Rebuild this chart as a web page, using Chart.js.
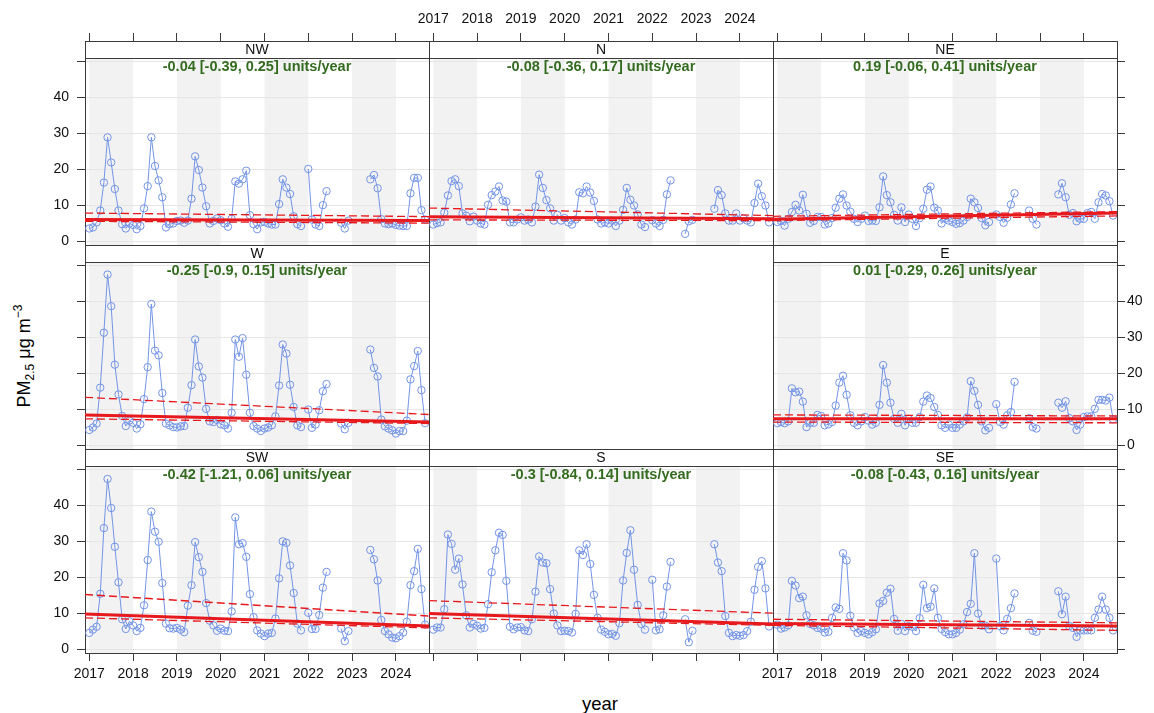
<!DOCTYPE html>
<html>
<head>
<meta charset="utf-8">
<script src="https://cdn.jsdelivr.net/npm/chart.js@4.4.1/dist/chart.umd.min.js"></script>
<style>
    body { margin: 0; background: #fff; font-family: "Liberation Sans", Arial, sans-serif; }
    #wrap { position: relative; width: 1154px; height: 713px; overflow: hidden; background: #fff; }
    #wrap canvas { position: absolute; }
    .ytitle {
        position: absolute; left: 24px; top: 356px;
        transform: translate(-50%, -50%) rotate(-90deg);
        font-size: 18px; white-space: nowrap; color: #000;
    }
    .ytitle sub { font-size: 12px; vertical-align: -4px; }
    .ytitle sup { font-size: 12px; vertical-align: 8px; }
    .xtitle {
        position: absolute; left: 600px; top: 704px;
        transform: translate(-50%, -50%);
        font-size: 18.5px; color: #000;
    }
</style>
</head>
<body>
<div id="wrap">
    <div class="ytitle">PM<sub>2.5</sub> μg m<sup>−3</sup></div>
    <div class="xtitle">year</div>
</div>
<script>
// monthly means, Jan 2017 .. Sep 2024 (null = no data that month)
const firstYear = 2017;
const yearTicks = [2017, 2018, 2019, 2020, 2021, 2022, 2023, 2024];
const valueTicks = [0, 10, 20, 30, 40, 50];
const shadedYears = [2017, 2019, 2021, 2023];

const NW = [3.5, 3.8, 5.2, 8.5, 16.3, 28.9, 21.9, 14.5, 8.5, 4.7, 3.5, 4.9,
    4.5, 3.3, 4.2, 9.1, 15.3, 28.9, 20.9, 16.9, 12.2, 3.8, 4.7, 4.9,
    5.6, 5.7, 5.1, 5.7, 11.8, 23.6, 19.8, 14.9, 9.7, 4.9, 5.6, 6.3,
    5.8, 4.9, 4.0, 6.2, 16.6, 16.0, 17.2, 19.6, 7.2, 4.7, 3.3, 5.2,
    5.3, 4.9, 4.6, 4.6, 10.3, 17.2, 14.9, 13.1, 6.9, 4.7, 4.2, null,
    20.1, 6.0, 4.6, 4.2, 10.0, 13.9, null, null, null, 5.1, 3.5, 5.7,
    null, null, null, null, null, 17.2, 18.4, 14.7, 6.1, 4.9, 4.7, 4.9,
    4.5, 4.3, 4.2, 4.2, 13.3, 17.6, 17.6, 8.6, 6.0];

const N = [4.6, 5.0, 5.2, 7.9, 12.7, 16.7, 17.2, 15.3, 7.7, 7.1, 5.5, 6.8,
    5.7, 4.9, 4.6, 10.1, 12.8, 13.8, 15.2, 11.3, 11.0, 5.2, 5.2, 6.0,
    6.6, 5.7, 6.0, 5.2, 9.6, 18.5, 14.8, 11.4, 9.1, 5.7, 7.3, 5.7,
    6.4, 5.2, 4.6, 6.0, 13.6, 13.3, 15.2, 13.5, 11.2, 6.0, 4.9, 5.2,
    4.9, 5.7, 4.2, 5.7, 8.7, 14.8, 11.5, 9.9, 7.4, 4.6, 3.9, null,
    5.8, 4.9, 4.2, 5.9, 13.0, 16.9, null, null, null, 2.0, 5.5, 5.9,
    null, null, null, null, null, 9.0, 14.2, 12.8, 7.7, 5.7, 5.7, 7.7,
    5.7, 6.3, 5.7, 5.2, 10.6, 16.0, 12.5, 9.9, 5.2];

const NE = [5.3, 5.6, 4.3, 6.2, 8.1, 10.1, 8.5, 12.9, 7.6, 5.1, 5.6, 6.7,
    6.7, 4.6, 4.9, 6.4, 9.3, 11.8, 13.0, 9.9, 8.2, 6.2, 5.3, 6.2,
    7.1, 5.6, 5.7, 5.6, 9.4, 18.0, 12.8, 10.8, 7.3, 5.7, 9.4, 5.3,
    7.4, 6.2, 4.2, 6.4, 9.0, 14.3, 15.2, 9.3, 8.5, 4.9, 6.2, 5.7,
    5.3, 4.8, 5.0, 5.7, 6.7, 11.8, 10.8, 9.2, 6.4, 4.4, 5.3, null,
    7.4, 6.7, 5.1, 6.5, 10.2, 13.3, null, null, null, 8.5, 6.2, 4.6,
    null, null, null, null, null, 13.0, 16.1, 12.2, 7.3, 7.8, 5.5, 6.2,
    6.2, 7.8, 8.1, 6.2, 10.8, 13.1, 12.7, 11.1, 7.1];

const W = [4.2, 4.9, 6.0, 16.0, 31.3, 47.5, 38.7, 22.4, 14.1, 8.1, 5.3, 6.8,
    6.2, 4.6, 5.8, 12.8, 21.7, 39.3, 26.3, 25.0, 14.5, 6.0, 5.5, 5.0,
    4.9, 5.2, 5.3, 10.4, 16.7, 29.4, 21.9, 18.8, 10.1, 6.6, 6.4, 7.0,
    5.8, 5.5, 4.6, 9.0, 29.4, 24.6, 29.8, 19.6, 9.0, 5.3, 4.6, 3.9,
    4.6, 4.9, 5.5, 8.0, 16.6, 28.0, 25.5, 16.8, 10.6, 5.5, 5.0, null,
    9.9, 4.8, 5.7, 9.7, 15.0, 17.0, null, null, null, 6.0, 4.4, 6.2,
    null, null, null, null, null, 26.6, 21.5, 19.1, 7.1, 5.2, 4.6, 4.1,
    3.2, 3.9, 3.9, 6.8, 18.3, 22.0, 26.2, 15.3, 6.1];

const E = [6.1, 6.4, 6.1, 6.6, 15.8, 14.7, 14.9, 12.1, 5.0, 6.2, 6.2, 8.4,
    8.1, 5.5, 5.8, 6.4, 11.0, 17.4, 19.3, 14.0, 8.3, 6.2, 5.5, 6.6,
    7.8, 6.8, 5.7, 6.2, 11.2, 22.3, 17.4, 11.8, 7.3, 6.2, 8.7, 5.5,
    7.3, 6.2, 6.2, 7.8, 12.1, 13.8, 13.1, 10.6, 8.4, 5.5, 4.8, 5.7,
    4.8, 4.8, 5.7, 6.6, 7.7, 17.8, 15.1, 11.2, 6.6, 4.1, 4.8, null,
    11.4, 6.4, 5.7, 8.3, 9.2, 17.6, null, null, null, 7.5, 5.0, 4.6,
    null, null, null, null, null, 11.8, 10.4, 12.2, 7.5, 6.6, 4.2, 5.7,
    7.8, 8.0, 8.0, 10.1, 12.6, 12.6, 12.4, 13.2, 7.2];

const SW = [4.5, 5.4, 6.2, 15.4, 33.7, 47.4, 39.3, 28.5, 18.6, 8.3, 5.6, 7.7,
    6.6, 5.0, 5.9, 12.2, 24.8, 38.3, 32.7, 29.9, 18.4, 7.1, 5.8, 5.7,
    5.9, 5.4, 4.7, 12.1, 17.8, 29.8, 25.6, 21.5, 12.8, 7.9, 6.6, 5.1,
    5.7, 5.1, 5.0, 10.5, 36.7, 29.2, 29.5, 25.7, 15.3, 8.9, 5.2, 4.3,
    3.6, 4.3, 4.5, 8.5, 19.7, 30.0, 29.6, 23.3, 15.6, 7.1, 5.2, null,
    10.1, 5.6, 5.6, 9.5, 17.1, 21.5, null, null, null, 5.7, 2.2, 5.0,
    null, null, null, null, null, 27.6, 25.0, 19.1, 8.1, 5.0, 4.1, 3.2,
    3.0, 3.6, 4.6, 7.6, 17.8, 21.7, 27.9, 16.7, 6.8];

const S = [5.4, 6.0, 6.0, 11.1, 31.9, 29.3, 22.1, 25.2, 18.0, 9.4, 6.0, 7.0,
    6.5, 5.7, 5.9, 12.5, 21.4, 27.5, 32.4, 31.8, 19.0, 6.2, 5.5, 6.0,
    6.1, 5.2, 5.0, 8.3, 16.0, 25.8, 24.1, 23.9, 16.7, 9.9, 6.6, 5.0,
    5.1, 5.0, 4.6, 9.8, 27.5, 26.2, 29.2, 23.7, 15.1, 8.7, 5.4, 4.8,
    4.1, 4.2, 3.7, 7.2, 19.1, 26.8, 33.1, 22.1, 12.3, 7.0, 5.4, null,
    19.3, 5.2, 5.5, 9.4, 17.4, 24.3, null, null, null, 8.3, 1.9, 5.1,
    null, null, null, null, null, 29.2, 24.1, 21.7, 9.2, 4.5, 3.6, 3.9,
    3.7, 3.9, 5.0, 7.6, 16.5, 22.9, 24.5, 16.9, 6.3];

const SE = [6.8, 5.7, 6.0, 6.6, 19.0, 17.7, 14.2, 14.6, 9.4, 7.0, 6.6, 5.9,
    5.7, 4.6, 4.8, 8.7, 11.6, 11.2, 26.7, 24.7, 9.3, 6.0, 4.5, 5.0,
    4.5, 4.1, 4.7, 5.5, 12.7, 13.4, 15.7, 16.8, 8.4, 5.1, 7.0, 5.0,
    6.4, 6.2, 5.0, 8.6, 17.9, 11.4, 11.8, 16.9, 8.7, 5.6, 4.7, 4.1,
    4.1, 4.5, 5.4, 6.9, 10.3, 12.6, 26.7, 9.9, 6.5, 6.5, 5.5, null,
    25.2, 6.4, 5.2, 8.4, 11.4, 15.5, null, null, null, 7.3, 5.1, 4.8,
    null, null, null, null, null, 16.1, 9.7, 14.6, 6.4, 5.9, 3.4, 5.2,
    5.2, 5.2, 5.2, 8.7, 11.0, 14.6, 11.0, 8.7, 5.2];

// Theil-Sen line and its confidence limits at the left and right panel edges: [fit, lower, upper]
const trendNW = [[6.0, 5.7], [5.5, 5.0], [7.8, 6.8]];
const trendN = [[6.8, 6.2], [5.9, 5.7], [9.2, 7.1]];
const trendNE = [[6.1, 7.8], [5.7, 7.0], [6.9, 8.2]];
const trendW = [[8.4, 6.4], [7.3, 6.0], [13.3, 8.5]];
const trendE = [[7.3, 7.3], [6.4, 6.2], [8.4, 8.1]];
const trendSW = [[9.8, 6.4], [8.7, 5.9], [15.2, 9.2]];
const trendS = [[9.9, 7.0], [8.7, 6.6], [13.5, 10.0]];
const trendSE = [[7.1, 6.4], [6.6, 5.2], [8.3, 7.3]];

const slopeNW = "-0.04 [-0.39, 0.25] units/year";
const slopeN = "-0.08 [-0.36, 0.17] units/year";
const slopeNE = "0.19 [-0.06, 0.41] units/year";
const slopeW = "-0.25 [-0.9, 0.15] units/year";
const slopeE = "0.01 [-0.29, 0.26] units/year";
const slopeSW = "-0.42 [-1.21, 0.06] units/year";
const slopeS = "-0.3 [-0.84, 0.14] units/year";
const slopeSE = "-0.08 [-0.43, 0.16] units/year";

// ---- layout ----
const X_MIN = 2016.902, X_MAX = 2024.756;
const Y_MIN = -1.1, Y_MAX = 51.0;
const COL_X = [85, 429, 773], PANEL_W = 344;
const ROW_Y = [41, 245, 449], STRIP_H = 17, PANEL_H = 187;
const M = { left: 60, right: 45, top: 45, bottom: 60 };
const Y_TOP = Y_MAX + STRIP_H * (Y_MAX - Y_MIN) / PANEL_H;

const AXIS = "#3a3a3a", GRID = "#e6e6e6", BAND = "#f2f2f2";
const PT_COL = "#7394e6", TREND_COL = "#e8191c", SLOPE_COL = "#336b1f";
const FONT = '"Liberation Sans", Arial, sans-serif';

// left/right: y axes on the outer columns; top/bottom: x axes on outer rows
const panels = [
    { name: "NW", values: NW, trend: trendNW, slope: slopeNW, row: 0, col: 0, left: "labels", top: "ticks" },
    { name: "N", values: N, trend: trendN, slope: slopeN, row: 0, col: 1, top: "labels" },
    { name: "NE", values: NE, trend: trendNE, slope: slopeNE, row: 0, col: 2, top: "ticks", right: "ticks" },
    { name: "W", values: W, trend: trendW, slope: slopeW, row: 1, col: 0, left: "ticks" },
    { name: "E", values: E, trend: trendE, slope: slopeE, row: 1, col: 2, right: "labels" },
    { name: "SW", values: SW, trend: trendSW, slope: slopeSW, row: 2, col: 0, left: "labels", bottom: "labels" },
    { name: "S", values: S, trend: trendS, slope: slopeS, row: 2, col: 1, bottom: "ticks" },
    { name: "SE", values: SE, trend: trendSE, slope: slopeSE, row: 2, col: 2, bottom: "labels", right: "ticks" }
];

function xAxis(pos, mode) {
    return {
        type: "linear", position: pos, min: X_MIN, max: X_MAX,
        afterBuildTicks: s => { s.ticks = yearTicks.map(v => ({ value: v })); },
        afterFit: s => { s.height = pos === "top" ? M.top : M.bottom; },
        grid: { drawOnChartArea: false, drawTicks: !!mode, tickLength: 8, tickColor: AXIS, tickWidth: 1 },
        border: { display: true, color: AXIS, width: 1 },
        ticks: {
            display: mode === "labels", autoSkip: false, maxRotation: 0, padding: 5,
            color: "#111", font: { family: FONT, size: 14 }, callback: v => String(v)
        }
    };
}

function yAxis(pos, mode, drawGrid) {
    return {
        type: "linear", position: pos, min: Y_MIN, max: Y_TOP,
        afterBuildTicks: s => { s.ticks = valueTicks.map(v => ({ value: v })); },
        afterFit: s => { s.width = pos === "left" ? M.left : M.right; },
        grid: { drawOnChartArea: drawGrid, color: GRID, drawTicks: !!mode, tickLength: 8, tickColor: AXIS, tickWidth: 1 },
        border: { display: true, color: AXIS, width: 1 },
        ticks: {
            display: mode === "labels", padding: pos === "left" ? 8 : 2,
            color: "#111", font: { family: FONT, size: 14 },
            callback: v => (v === 50 ? "" : String(v))
        }
    };
}

// year shading, strip with the direction name, slope estimate
const panelDecor = {
    id: "panelDecor",
    beforeDraw(chart, args, opts) {
        const { ctx, chartArea: a, scales: { x } } = chart;
        const top = a.top + STRIP_H;
        ctx.save();
        ctx.fillStyle = BAND;
        for (const yr of shadedYears) {
            const x0 = Math.max(x.getPixelForValue(yr), a.left);
            const x1 = Math.min(x.getPixelForValue(yr + 1), a.right);
            if (x1 > x0) ctx.fillRect(x0, top, x1 - x0, a.bottom - top);
        }
        ctx.restore();
    },
    afterDraw(chart, args, opts) {
        const { ctx, chartArea: a } = chart;
        const sy = Math.round(a.top + STRIP_H) + 0.5;
        const cx = (a.left + a.right) / 2;
        ctx.save();
        ctx.strokeStyle = AXIS;
        ctx.lineWidth = 1;
        ctx.beginPath();
        ctx.moveTo(a.left, sy);
        ctx.lineTo(a.right, sy);
        ctx.stroke();
        ctx.textAlign = "center";
        ctx.textBaseline = "middle";
        ctx.fillStyle = "#111";
        ctx.font = "14px " + FONT;
        ctx.fillText(opts.name, cx, a.top + STRIP_H / 2 + 0.5);
        ctx.fillStyle = SLOPE_COL;
        ctx.font = "bold 14.5px " + FONT;
        ctx.fillText(opts.slope, cx, a.top + STRIP_H + 9);
        ctx.restore();
    }
};

function edgeLine(pair, width, dash) {
    return {
        type: "line",
        data: [{ x: X_MIN, y: pair[0] }, { x: X_MAX, y: pair[1] }],
        borderColor: TREND_COL, borderWidth: width, borderDash: dash,
        pointRadius: 0, fill: false, order: 0
    };
}

function drawPanel(p) {
    const canvas = document.createElement("canvas");
    const w = M.left + PANEL_W + M.right;
    const h = M.top + STRIP_H + PANEL_H + M.bottom;
    canvas.width = w;
    canvas.height = h;
    canvas.style.width = w + "px";
    canvas.style.height = h + "px";
    canvas.style.left = (COL_X[p.col] - M.left) + "px";
    canvas.style.top = (ROW_Y[p.row] - M.top) + "px";
    document.getElementById("wrap").appendChild(canvas);

    const points = p.values.map((v, i) => ({ x: firstYear + i / 12, y: v }));

    new Chart(canvas, {
        type: "line",
        data: {
            datasets: [
                edgeLine(p.trend[0], 3, []),
                edgeLine(p.trend[1], 1.3, [8, 4]),
                edgeLine(p.trend[2], 1.3, [8, 4]),
                {
                    data: points,
                    borderColor: PT_COL, borderWidth: 1,
                    pointStyle: "circle", pointRadius: 3.7,
                    pointBorderColor: PT_COL, pointBackgroundColor: "rgba(0,0,0,0)",
                    pointBorderWidth: 1, spanGaps: false, tension: 0, order: 1
                }
            ]
        },
        options: {
            responsive: false,
            animation: false,
            events: [],
            devicePixelRatio: 1,
            layout: { padding: 0 },
            scales: {
                x: xAxis("bottom", p.bottom),
                x2: xAxis("top", p.top),
                y: yAxis("left", p.left, true),
                y2: yAxis("right", p.right, false)
            },
            plugins: {
                legend: { display: false },
                tooltip: { enabled: false },
                panelDecor: { name: p.name, slope: p.slope }
            }
        },
        plugins: [panelDecor]
    });
}

panels.forEach(drawPanel);
</script>
</body>
</html>
